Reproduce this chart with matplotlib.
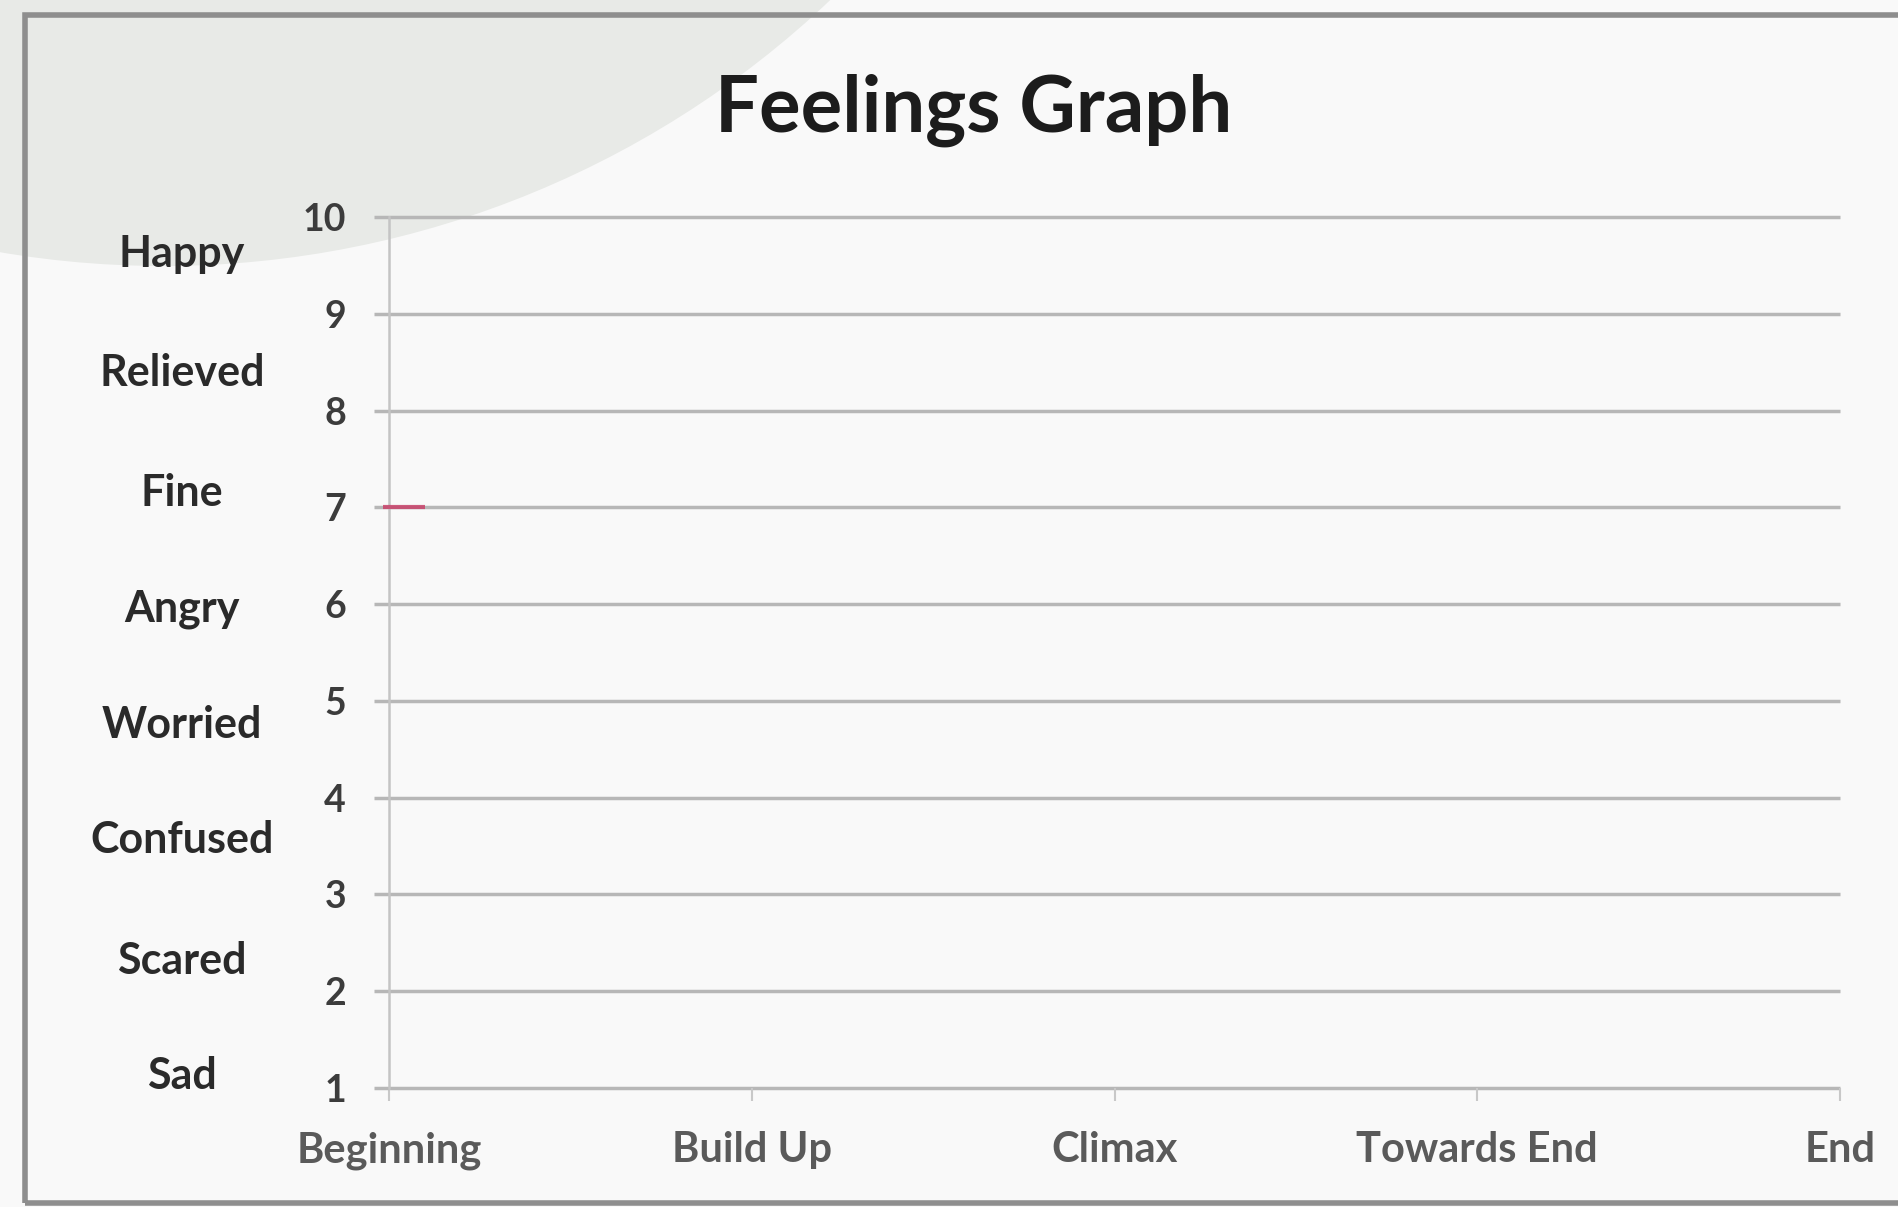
import matplotlib.pyplot as plt
from matplotlib.patches import Ellipse, Rectangle
from matplotlib.transforms import blended_transform_factory

# chart data
stages = ["Beginning", "Build Up", "Climax", "Towards End", "End"]
levels = list(range(1, 11))
feelings = ["Happy", "Relieved", "Fine", "Angry", "Worried", "Confused", "Scared", "Sad"]
feeling_pos = [9.62, 8.39, 7.15, 5.95, 4.75, 3.56, 2.31, 1.12]
marked_stage = [0.04]
marked_level = [7]

plt.rcParams['font.family'] = ['Lato', 'DejaVu Sans']

W, H = 1898, 1207
fig = plt.figure(figsize=(W / 100, H / 100), dpi=100, facecolor='#f9f9f9')

# slide decoration: big pale circle in the top-left corner and the frame
fig.patches.append(Ellipse((163 / W, 1 + 704 / H), 2 * 970 / W, 2 * 970 / H,
                           transform=fig.transFigure, facecolor='#e8eae7',
                           edgecolor='none', zorder=-2))
fig.patches.append(Rectangle((25 / W, 4 / H), 1.02, (1203 - 15) / H,
                             transform=fig.transFigure, facecolor='none',
                             edgecolor='#8e8e8e', linewidth=4, zorder=-1))

ax = fig.add_axes([389 / W, 119 / H, (1840 - 389) / W, (1088 - 217) / H])
ax.set_facecolor('none')

grid_col = '#b7b7b7'
ax.hlines(levels, 0, len(stages) - 1, colors=grid_col, linewidth=2.5, clip_on=False, zorder=1)
ax.plot(marked_stage, marked_level, marker='_', markersize=30, markeredgewidth=3,
        color='#c8426a', alpha=0.85, linestyle='none', clip_on=False, zorder=3)

ax.set_xlim(0, len(stages) - 1)
ax.set_ylim(1, 10)

for s in ['top', 'right', 'bottom']:
    ax.spines[s].set_visible(False)
ax.spines['left'].set_color('#c4c4c4')
ax.spines['left'].set_linewidth(1.8)

ax.set_yticks(levels)
ax.set_yticklabels([str(v) for v in levels])
ax.tick_params(axis='y', length=11, width=2.5, color=grid_col, pad=20,
               labelsize=27, labelcolor='#3c3c3c')
for t in ax.get_yticklabels():
    t.set_fontweight('bold')

ax.set_xticks(range(len(stages)))
ax.set_xticklabels(stages)
ax.tick_params(axis='x', length=9, width=1.5, color='#c8c8c8', pad=22,
               labelsize=30, labelcolor='#5a5a5a')
for t in ax.get_xticklabels():
    t.set_fontweight('bold')

# feeling names beside the scale
trans = blended_transform_factory(ax.transAxes, ax.transData)
for name, y in zip(feelings, feeling_pos):
    ax.text(-0.1427, y, name, transform=trans, ha='center', va='center',
            fontsize=31, fontweight='bold', color='#2a2a2a')

fig.text(974 / W, 1 - 132 / H, "Feelings Graph", ha='center', va='baseline',
         fontsize=56, fontweight='bold', color='#1c1c1c')

fig.savefig('out.png', dpi=100, facecolor=fig.get_facecolor())
